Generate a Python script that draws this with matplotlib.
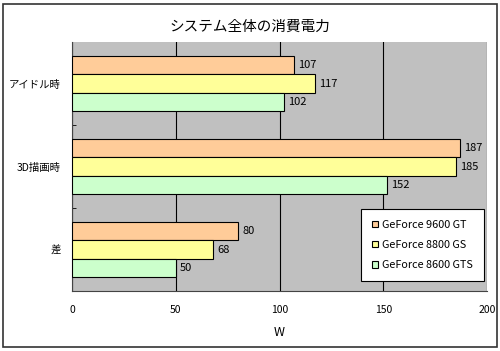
import matplotlib.pyplot as plt
import numpy as np
from matplotlib.patches import Rectangle

plt.rcParams['font.family'] = ['Noto Sans CJK JP', 'DejaVu Sans']

# data
categories = ['アイドル時', '3D描画時', '差']
series = ['GeForce 9600 GT', 'GeForce 8800 GS', 'GeForce 8600 GTS']
gt9600 = [107, 187, 80]
gs8800 = [117, 185, 68]
gts8600 = [102, 152, 50]
colors = ['#FFCC99', '#FFFF99', '#CCFFCC']

fig = plt.figure(figsize=(5.0, 3.51), dpi=100)
ax = fig.add_axes([0.144, 0.171, 0.830, 0.709])
ax.set_facecolor('#C0C0C0')

y = np.arange(len(categories))
h = 0.223
for i, (vals, name) in enumerate(zip([gt9600, gs8800, gts8600], series)):
    pos = y - h + i * h
    bars = ax.barh(pos, vals, height=h, color=colors[i], edgecolor='black',
                   linewidth=0.8, label=name, zorder=3)
    for b, v in zip(bars, vals):
        ax.text(v + 2, b.get_y() + h / 2, str(v), va='center', ha='left',
                fontsize=8, zorder=4)

ax.set_xlim(0, 200)
ax.set_ylim(2.5, -0.5)
ax.set_xticks([0, 50, 100, 150, 200])
ax.tick_params(axis='x', length=0, pad=10, labelsize=7.5)
ax.set_yticks(y)
ax.set_yticklabels(categories, fontsize=7.5)
ax.tick_params(axis='y', length=0, pad=8)
ax.set_yticks([0.5, 1.5], minor=True)
ax.tick_params(axis='y', which='minor', direction='in', length=3)
ax.grid(axis='x', color='black', linewidth=0.8, zorder=1)
for s in ['top', 'right']:
    ax.spines[s].set_visible(False)
ax.spines['left'].set_color('#444444')
ax.spines['bottom'].set_color('#444444')

ax.set_xlabel('W', fontsize=9, labelpad=8)
fig.text(0.5, 0.925, 'システム全体の消費電力', ha='center', va='center', fontsize=10.5)

leg = ax.legend(loc='lower right', bbox_to_anchor=(0.993, 0.04), fontsize=7.8,
                frameon=True, fancybox=False, edgecolor='black', facecolor='white',
                framealpha=1, handlelength=0.55, handleheight=0.55, handletextpad=0.4,
                labelspacing=0.95, borderpad=1.0, borderaxespad=0)
leg.get_frame().set_linewidth(0.8)
leg.set_zorder(5)

fig.patches.append(Rectangle((0.006, 0.01), 0.988, 0.98, transform=fig.transFigure,
                             fill=False, edgecolor='#333333', linewidth=1.2))

fig.savefig('out.png', dpi=100)
